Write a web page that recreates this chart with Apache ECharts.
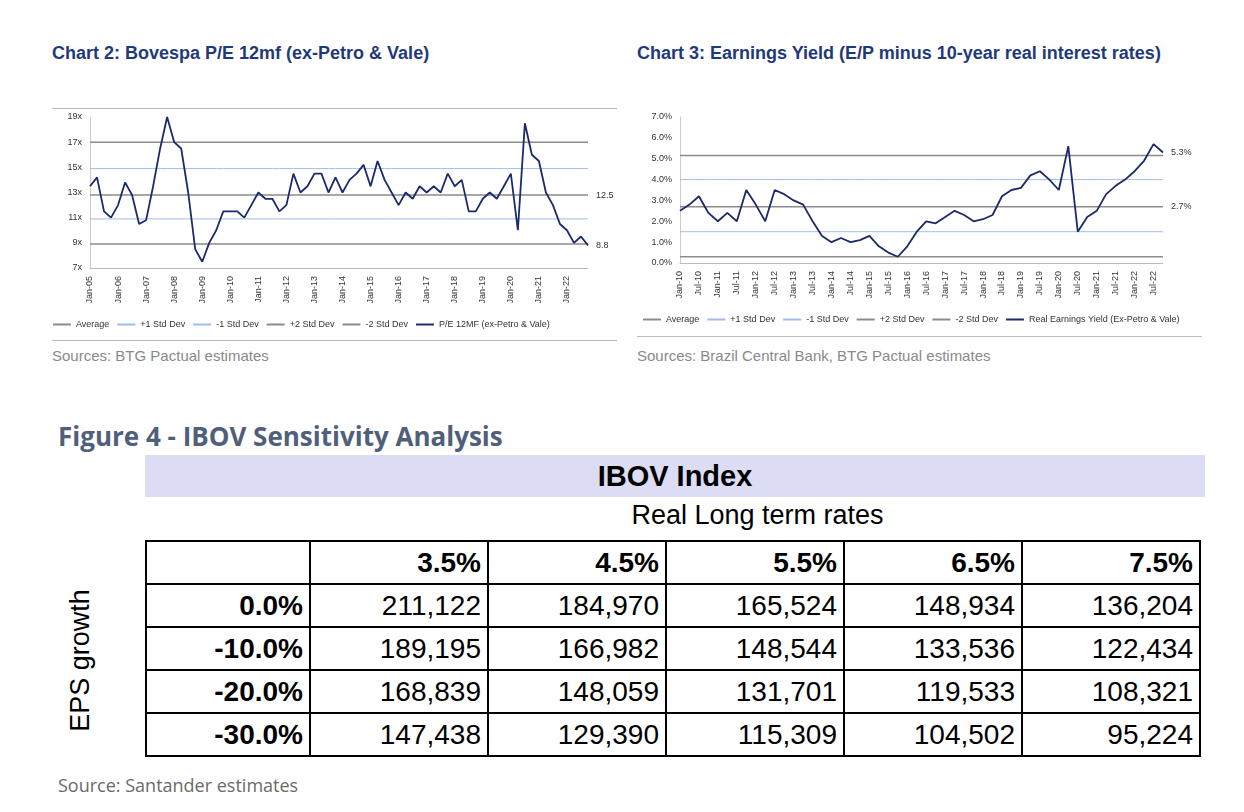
<!DOCTYPE html>
<html><head><meta charset="utf-8">
<script src="https://cdn.jsdelivr.net/npm/echarts@6/dist/echarts.min.js"></script>
<style>
body{margin:0;width:1244px;height:812px;background:#fff;font-family:Arial,"Liberation Sans",sans-serif;position:relative;overflow:hidden}
.t{position:absolute;color:#1f3a7a;font-weight:bold;font-size:18px;line-height:30px}
.src{position:absolute;color:#8a8a8a;font-size:15px}
.chart{position:absolute}
.rule{position:absolute;height:1px;background:#bbb}
#fig{position:absolute;left:58px;top:418px;font-size:26px;color:#50607a;font-weight:bold;font-family:"Open Sans",sans-serif}
#band{position:absolute;left:145px;top:455px;width:1060px;height:42px;background:#dcdcf4;text-align:center;font-weight:bold;font-size:29px;line-height:42px}
#rlt{position:absolute;left:145px;top:500px;width:1225px;text-align:center;font-size:27px}
table{position:absolute;left:145px;top:540px;border-collapse:collapse;font-size:28px}
td{border:2px solid #000;height:41px;padding:0 6px;text-align:right}
td.h{font-weight:bold}
#eps{position:absolute;left:-20px;top:645px;transform:rotate(-90deg);font-size:27px;width:200px;text-align:center;white-space:nowrap}
</style></head><body>
<div class="t" style="left:52px;top:38px">Chart 2: Bovespa P/E 12mf (ex-Petro &amp; Vale)</div>
<div class="t" style="left:637px;top:38px;width:545px">Chart 3: Earnings Yield (E/P minus 10-year real interest rates)</div>
<div class="rule" style="left:52px;top:108px;width:565px"></div>
<div class="rule" style="left:52px;top:340px;width:565px"></div>
<div class="rule" style="left:637px;top:336px;width:565px"></div>
<div id="c1" class="chart" style="left:40px;top:105px;width:590px;height:235px"></div>
<div id="c2" class="chart" style="left:630px;top:105px;width:575px;height:230px"></div>
<div class="src" style="left:52px;top:347px">Sources: BTG Pactual estimates</div>
<div class="src" style="left:637px;top:347px">Sources: Brazil Central Bank, BTG Pactual estimates</div>
<div id="fig">Figure 4 - IBOV Sensitivity Analysis</div>
<div id="band">IBOV Index</div>
<div id="rlt">Real Long term rates</div>
<div id="eps">EPS growth</div>
<table id="tbl"></table>
<div class="src" style="left:58px;top:773px;font-size:18px;color:#6a6a6a;font-family:'Open Sans',sans-serif">Source: Santander estimates</div>
<script>
// Chart 2 data (quarterly, Jan-05 .. Oct-22)
const peValues = [13.5,14.2,11.5,11.0, 12.0,13.8,12.8,10.5, 10.8,13.5,16.5,19.0, 17.0,16.5,13.0,8.5,
  7.5,9.0,10.0,11.5, 11.5,11.5,11.0,12.0, 13.0,12.5,12.5,11.5, 12.0,14.5,13.0,13.5,
  14.5,14.5,13.0,14.2, 13.0,14.0,14.5,15.2, 13.5,15.5,14.0,13.0, 12.0,13.0,12.5,13.5,
  13.0,13.5,13.0,14.5, 13.5,14.0,11.5,11.5, 12.5,13.0,12.5,13.5, 14.5,10.0,18.5,16.0,
  15.5,13.0,12.0,10.5, 10.0,9.0,9.5,8.8];
const peBands = {avg:12.8, p1:14.9, m1:10.9, p2:17.0, m2:8.9};
// Chart 3 data (quarterly, Jan-10 .. Oct-22)
const eyValues = [2.5,2.8,3.2,2.4, 2.0,2.4,2.0,3.5, 2.8,2.0,3.5,3.3, 3.0,2.8,2.0,1.3,
  1.0,1.2,1.0,1.1, 1.3,0.8,0.5,0.3, 0.8,1.5,2.0,1.9, 2.2,2.5,2.3,2.0,
  2.1,2.3,3.2,3.5, 3.6,4.2,4.4,4.0, 3.5,5.6,1.5,2.2, 2.5,3.3,3.7,4.0,
  4.4,4.9,5.7,5.3];
const eyBands = {avg:2.7, p1:4.0, m1:1.5, p2:5.15, m2:0.3};
// Table
const rateCols = ['3.5%','4.5%','5.5%','6.5%','7.5%'];
const epsRows = ['0.0%','-10.0%','-20.0%','-30.0%'];
const ibov = [[211122,184970,165524,148934,136204],[189195,166982,148544,133536,122434],
  [168839,148059,131701,119533,108321],[147438,129390,115309,104502,95224]];

const mon = ['Jan','Apr','Jul','Oct'];
function cats(y0,y1){const c=[];for(let y=y0;y<=y1;y++)for(const m of mon)c.push(m+'-'+String(y).slice(2));return c;}

const navy='#1b2a6b';
function build(el,cat,vals,b,yopt,name,labelAvg,labelLast,lblInterval){
  const flat=(v)=>cat.map(()=>v);
  const band=(nm,v,color,w)=>({name:nm,type:'line',data:flat(v),symbol:'none',lineStyle:{color,width:w},itemStyle:{color},silent:true});
  const ch=echarts.init(document.getElementById(el));
  const avg=band('Average',b.avg,'#8c8c8c',1.5);
  avg.endLabel={show:true,formatter:labelAvg,fontSize:9,color:'#333'};
  ch.setOption({
    animation:false,
    grid:{left:50,right:42,top:12,bottom:72},
    legend:{bottom:6,left:8,itemWidth:18,itemHeight:2,itemGap:8,icon:'rect',textStyle:{fontSize:9,color:'#333'},
      data:['Average','+1 Std Dev','-1 Std Dev','+2 Std Dev','-2 Std Dev',name]},
    xAxis:{type:'category',data:cat,boundaryGap:false,axisLine:{lineStyle:{color:'#bbb'}},axisTick:{show:false},
      axisLabel:{rotate:90,fontSize:9,color:'#333',interval:lblInterval}},
    yAxis:Object.assign({type:'value',splitLine:{show:false},axisLine:{show:true,lineStyle:{color:'#ccc'}}},yopt),
    series:[avg,band('+1 Std Dev',b.p1,'#9fbde8',1),band('-1 Std Dev',b.m1,'#9fbde8',1),
      band('+2 Std Dev',b.p2,'#8c8c8c',1.5),band('-2 Std Dev',b.m2,'#8c8c8c',1.5),
      {name,type:'line',data:vals,symbol:'none',lineStyle:{color:navy,width:1.8},itemStyle:{color:navy},
       endLabel:{show:true,formatter:labelLast,fontSize:9,color:'#333'}}]
  });
}
build('c1',cats(2005,2022),peValues,peBands,{min:7,max:19,interval:2,axisLabel:{fontSize:9,color:'#333',formatter:'{value}x'}},
  'P/E 12MF (ex-Petro & Vale)','12.5','8.8',3);
build('c2',cats(2010,2022),eyValues,eyBands,{min:0,max:7,interval:1,axisLabel:{fontSize:9,color:'#333',formatter:v=>v.toFixed(1)+'%'}},
  'Real Earnings Yield (Ex-Petro & Vale)','2.7%','5.3%',1);

let html='<tr><td style="width:150px"></td>'+rateCols.map(r=>'<td class="h" style="width:164px">'+r+'</td>').join('')+'</tr>';
epsRows.forEach((r,i)=>{html+='<tr><td class="h">'+r+'</td>'+ibov[i].map(v=>'<td>'+v.toLocaleString('en-US')+'</td>').join('')+'</tr>';});
document.getElementById('tbl').innerHTML=html;
</script>
</body></html>
